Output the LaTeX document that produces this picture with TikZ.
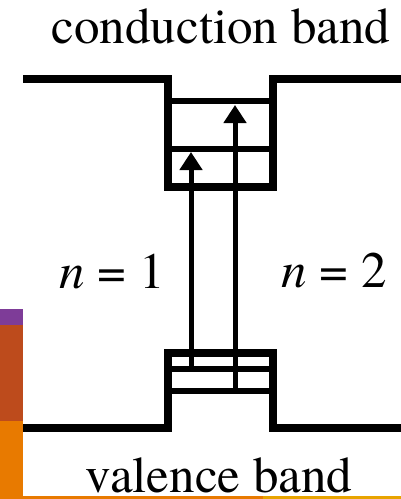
\documentclass[tikz,border=0pt]{standalone}
\usepackage{fontspec}
\newfontfamily\labfont{texgyretermes}[Extension=.otf,UprightFont=*-regular,ItalicFont=*-italic]
\usetikzlibrary{arrows.meta}
\definecolor{barpurple}{HTML}{7E3C98}
\definecolor{barbrown}{HTML}{BD4B1C}
\definecolor{barorange}{HTML}{E87A00}
\definecolor{baryellow}{HTML}{E8A400}
\tikzset{band/.style={line width=8.5pt,line join=miter,line cap=butt},
level/.style={line width=6.5pt},
jump/.style={-{Triangle[width=22pt,length=18pt]},line width=5pt},
lab/.style={font=\labfont\fontsize{51}{60}\selectfont,inner sep=0pt,anchor=base}}

\begin{document}
\begin{tikzpicture}[x=1pt,y=-1pt]
\useasboundingbox (0,0) rectangle (401,499);
% slide strips
\fill[barpurple] (0,309) rectangle (23,325);
\fill[barbrown] (0,325) rectangle (23,421);
\fill[barorange] (0,421) rectangle (23,499);
\fill[barorange] (0,496) rectangle (263,499);
\fill[baryellow] (263,496) rectangle (401,499);
% conduction band and its well
\draw[band] (23,79)--(168,79)--(168,187)--(273,187)--(273,79)--(401,79);
\draw[level] (168,101)--(273,101);
\draw[level] (168,149)--(273,149);
% valence band
\draw[band] (23,428)--(168,428)--(168,353)--(273,353)--(273,428)--(401,428);
\draw[level] (168,369)--(273,369);
\draw[level] (168,391)--(273,391);
% transitions
\coordinate (v1) at (191,369);
\coordinate (c1) at (191,152);
\coordinate (v2) at (235,391);
\coordinate (c2) at (235,105);
\draw[jump] (v1)--(c1);
\draw[jump] (v2)--(c2);
\node[lab] (cb) at (221,43) {conduction band};
\node[lab] (vb) at (219,492) {valence band};
\node[lab] (n1) at (112,288) {\textit{n} = 1};
\node[lab] (n2) at (334,287) {\textit{n} = 2};
\end{tikzpicture}
\end{document}
